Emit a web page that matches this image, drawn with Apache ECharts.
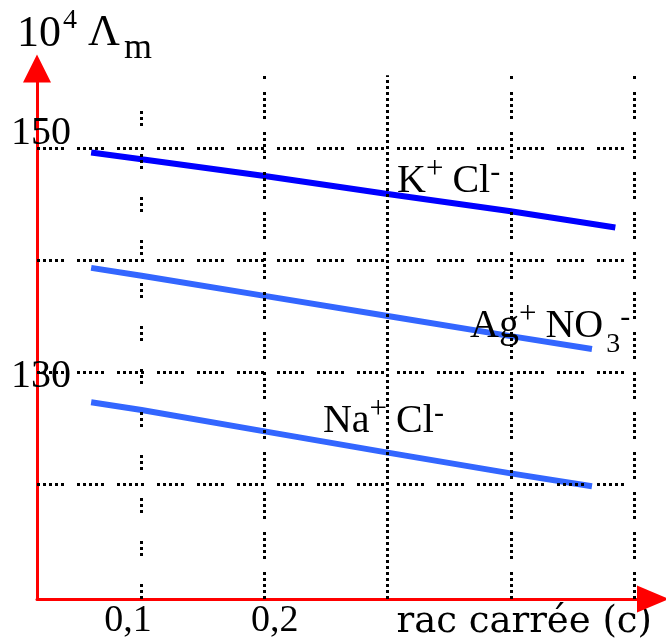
<!DOCTYPE html>
<html>
<head>
<meta charset="utf-8">
<script src="https://cdn.jsdelivr.net/npm/echarts@6/dist/echarts.min.js"></script>
<style>
  html, body { margin: 0; padding: 0; background: #fff; }
  #chart { width: 666px; height: 641px; }
</style>
</head>
<body>
<div id="chart"></div>
<script>
// Molar conductivity (10^4 Λm) against the square root of concentration
const kclX = [0.059, 0.1, 0.2, 0.3, 0.4, 0.485];
const kclY = [149.6, 149.0, 147.5, 145.9, 144.35, 142.9];
const agX = [0.059, 0.1, 0.2, 0.3, 0.4, 0.466];
const agY = [139.3, 138.6, 136.8, 135.0, 133.2, 132.05];
const naX = [0.059, 0.1, 0.2, 0.3, 0.4, 0.466];
const naY = [127.3, 126.6, 124.7, 122.8, 120.95, 119.8];

const xTickLabels = [0.1, 0.2];
const yTickLabels = [130, 150];
const xGridValues = [0.1, 0.2, 0.3, 0.4, 0.5];
const yGridValues = [120, 130, 140, 150];

// curve captions: [x, y] anchor in data units
const kclCaptionAt = [0.3076, 147.0];
const agCaptionAt = [0.3669, 134.09];
const naCaptionAt = [0.2474, 125.55];

const X_MIN = 0.015, X_MAX = 0.5156;
const Y_MIN = 109.73, Y_MAX = 157.1;

const SERIF = '"Liberation Serif", "Times New Roman", serif';
const DOTS = [3, 3, 3, 3, 3, 3, 3, 3, 3, 13];
const SPARSE = [3, 3, 3, 3, 3, 28];

function pairs(xs, ys) { return xs.map((x, i) => [x, ys[i]]); }
function near(a, b) { return Math.abs(a - b) < 1e-6; }

const captionRich = {
  b: { fontFamily: SERIF, fontSize: 40, lineHeight: 64, color: '#000' },
  bp: { fontFamily: SERIF, fontSize: 40, lineHeight: 64, color: '#000', padding: [0, 0, 0, 9] },
  sup: { fontFamily: SERIF, fontSize: 31, lineHeight: 42, verticalAlign: 'top', color: '#000', padding: [5, 0, 0, 0] },
  minus: { fontFamily: SERIF, fontSize: 30, lineHeight: 42, verticalAlign: 'top', color: '#000', padding: [9, 0, 0, 0] },
  sub: { fontFamily: SERIF, fontSize: 28, lineHeight: 24, verticalAlign: 'bottom', color: '#000', padding: [0, 0, 0, 3] }
};

function caption(at, text) {
  return {
    symbol: 'circle',
    symbolSize: 0,
    silent: true,
    label: {
      show: true, position: 'right', distance: 0,
      formatter: text, rich: captionRich
    },
    data: [{ coord: at }]
  };
}

const gridLines = [];
xGridValues.forEach((x, i) => {
  const top = i === 0 ? 154.7 : 156.5;
  const style = { color: '#000', width: 3, type: i === 0 ? SPARSE : (i === 2 ? [3, 3] : DOTS) };
  gridLines.push([{ coord: [x, Y_MIN], lineStyle: style }, { coord: [x, top], lineStyle: style }]);
});
yGridValues.forEach(y => {
  const style = { color: '#000', width: 3, type: DOTS };
  gridLines.push([{ coord: [X_MIN, y], lineStyle: style }, { coord: [0.5, y], lineStyle: style }]);
});

const chart = echarts.init(document.getElementById('chart'), null, { renderer: 'canvas' });

chart.setOption({
  animation: false,
  backgroundColor: '#fff',
  grid: { left: 37, right: 13, top: 68.5, bottom: 42, containLabel: false, outerBoundsMode: 'none' },
  xAxis: {
    type: 'value', min: X_MIN, max: X_MAX,
    axisLine: {
      show: true, onZero: false,
      lineStyle: { color: '#ff0000', width: 3 },
      symbol: ['none', 'triangle'], symbolSize: [27, 32]
    },
    axisTick: { show: false },
    splitLine: { show: false },
    axisLabel: {
      customValues: xTickLabels,
      margin: 3,
      formatter: v => {
        if (near(v, 0.1)) return '{l|0,1}';
        if (near(v, 0.2)) return '{r|0,2}';
        return '';
      },
      rich: {
        l: { fontFamily: SERIF, fontSize: 38, color: '#000', padding: [0, 27, 0, 0] },
        r: { fontFamily: SERIF, fontSize: 38, color: '#000', padding: [0, 0, 0, 20] }
      }
    },
    name: 'rac carrée (c)',
    nameLocation: 'end',
    nameGap: -1,
    nameTextStyle: {
      fontFamily: '"DejaVu Serif", serif', fontSize: 37, color: '#000',
      align: 'right', verticalAlign: 'top', padding: [5, 0, 0, 0]
    }
  },
  yAxis: {
    type: 'value', min: Y_MIN, max: Y_MAX,
    axisLine: {
      show: true, onZero: false,
      lineStyle: { color: '#ff0000', width: 3 },
      symbol: ['none', 'triangle'], symbolSize: [28, 28]
    },
    axisTick: { show: false },
    splitLine: { show: false },
    axisLabel: {
      customValues: yTickLabels,
      margin: -34,
      formatter: v => {
        if (near(v, 150)) return '{hi|150}';
        if (near(v, 130)) return '{lo|130}';
        return '';
      },
      rich: {
        hi: { fontFamily: SERIF, fontSize: 40, color: '#000', padding: [0, 0, 30, 0] },
        lo: { fontFamily: SERIF, fontSize: 40, color: '#000', padding: [10, 0, 0, 0] }
      }
    }
  },
  graphic: [
    { type: 'text', x: 17, y: 34, style: { text: '10', font: '44px ' + SERIF, fill: '#000', verticalAlign: 'middle', align: 'left' } },
    { type: 'text', x: 63, y: 20.5, style: { text: '4', font: '28px ' + SERIF, fill: '#000', verticalAlign: 'middle', align: 'left' } },
    { type: 'text', x: 88, y: 33, style: { text: 'Λ', font: '44px ' + SERIF, fill: '#000', verticalAlign: 'middle', align: 'left' } },
    { type: 'text', x: 124, y: 49, style: { text: 'm', font: '36px ' + SERIF, fill: '#000', verticalAlign: 'middle', align: 'left' } }
  ],
  series: [
    {
      name: 'grille', type: 'line', data: [], z: 1, silent: true,
      markLine: {
        silent: true, symbol: ['none', 'none'], label: { show: false },
        lineStyle: { color: '#000', width: 3, type: DOTS },
        data: gridLines
      }
    },
    {
      name: 'K+Cl-', type: 'line', z: 3, symbol: 'none', silent: true,
      lineStyle: { color: '#0000ff', width: 6 },
      data: pairs(kclX, kclY),
      markPoint: caption(kclCaptionAt, '{b|K}{sup|+}{bp|Cl}{minus|-}')
    },
    {
      name: 'Ag+NO3-', type: 'line', z: 3, symbol: 'none', silent: true,
      lineStyle: { color: '#3366ff', width: 6 },
      data: pairs(agX, agY),
      markPoint: caption(agCaptionAt, '{b|Ag}{sup|+}{bp|NO}{sub|3}{minus|-}')
    },
    {
      name: 'Na+Cl-', type: 'line', z: 3, symbol: 'none', silent: true,
      lineStyle: { color: '#3366ff', width: 6 },
      data: pairs(naX, naY),
      markPoint: caption(naCaptionAt, '{b|Na}{sup|+}{bp|Cl}{minus|-}')
    }
  ]
});
</script>
</body>
</html>
